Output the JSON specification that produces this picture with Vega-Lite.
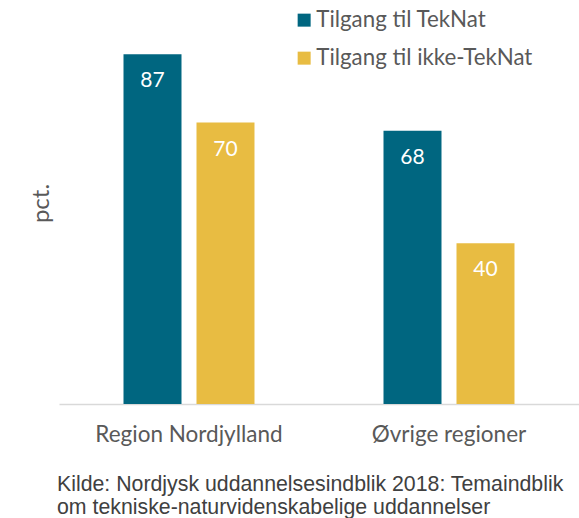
{
  "$schema": "https://vega.github.io/schema/vega-lite/v6.json",
  "width": 520,
  "height": 402,
  "autosize": {"type": "none"},
  "padding": {"left": 59, "top": 2, "right": 0, "bottom": 114},
  "background": "white",
  "config": {"view": {"stroke": null}},
  "title": {
    "text": ["Kilde: Nordjysk uddannelsesindblik 2018: Temaindblik", "om tekniske-naturvidenskabelige uddannelser"],
    "orient": "bottom",
    "anchor": "start",
    "frame": "group",
    "font": "Liberation Sans",
    "fontSize": 21.3,
    "fontWeight": "normal",
    "color": "#404040",
    "lineHeight": 23,
    "offset": 28,
    "dx": -2
  },
  "data": {
    "values": [
      {"region": "Region Nordjylland", "serie": "Tilgang til TekNat", "pct": 87},
      {"region": "Region Nordjylland", "serie": "Tilgang til ikke-TekNat", "pct": 70},
      {"region": "Øvrige regioner", "serie": "Tilgang til TekNat", "pct": 68},
      {"region": "Øvrige regioner", "serie": "Tilgang til ikke-TekNat", "pct": 40}
    ]
  },
  "encoding": {
    "x": {
      "field": "region", "type": "nominal",
      "scale": {"paddingInner": 0, "paddingOuter": 0},
      "axis": {
        "title": null, "labelAngle": 0, "ticks": false,
        "domainColor": "#d9d9d9", "domainWidth": 1.5,
        "labelFont": "Lato", "labelFontSize": 22.5, "labelColor": "#595959",
        "labelPadding": 19, "labelLimit": 400
      }
    },
    "xOffset": {
      "field": "serie", "type": "nominal",
      "scale": {"paddingInner": 0.2055, "paddingOuter": 0.8836}
    },
    "y": {
      "field": "pct", "type": "quantitative",
      "scale": {"domain": [0, 100]},
      "axis": {
        "title": "pct.", "domain": false, "ticks": false, "labels": false, "grid": false,
        "titleFont": "Lato", "titleFontSize": 24, "titleFontWeight": "normal",
        "titleColor": "#595959", "titlePadding": 6
      }
    }
  },
  "layer": [
    {
      "mark": {"type": "bar"},
      "encoding": {
        "color": {
          "field": "serie", "type": "nominal",
          "scale": {"domain": ["Tilgang til TekNat", "Tilgang til ikke-TekNat"], "range": ["#006680", "#E8BC42"]},
          "legend": {
            "title": null, "orient": "none", "legendX": 234, "legendY": 7,
            "symbolType": "square", "symbolSize": 169, "symbolStrokeWidth": 0,
            "labelFont": "Lato", "labelFontSize": 22.3, "labelColor": "#595959", "labelLimit": 400,
            "rowPadding": 15, "padding": 0, "labelOffset": 1
          }
        }
      }
    },
    {
      "mark": {"type": "text", "baseline": "middle", "dy": 27, "color": "white", "font": "Lato", "fontSize": 21},
      "encoding": {
        "text": {"field": "pct", "type": "quantitative"}
      }
    }
  ]
}
